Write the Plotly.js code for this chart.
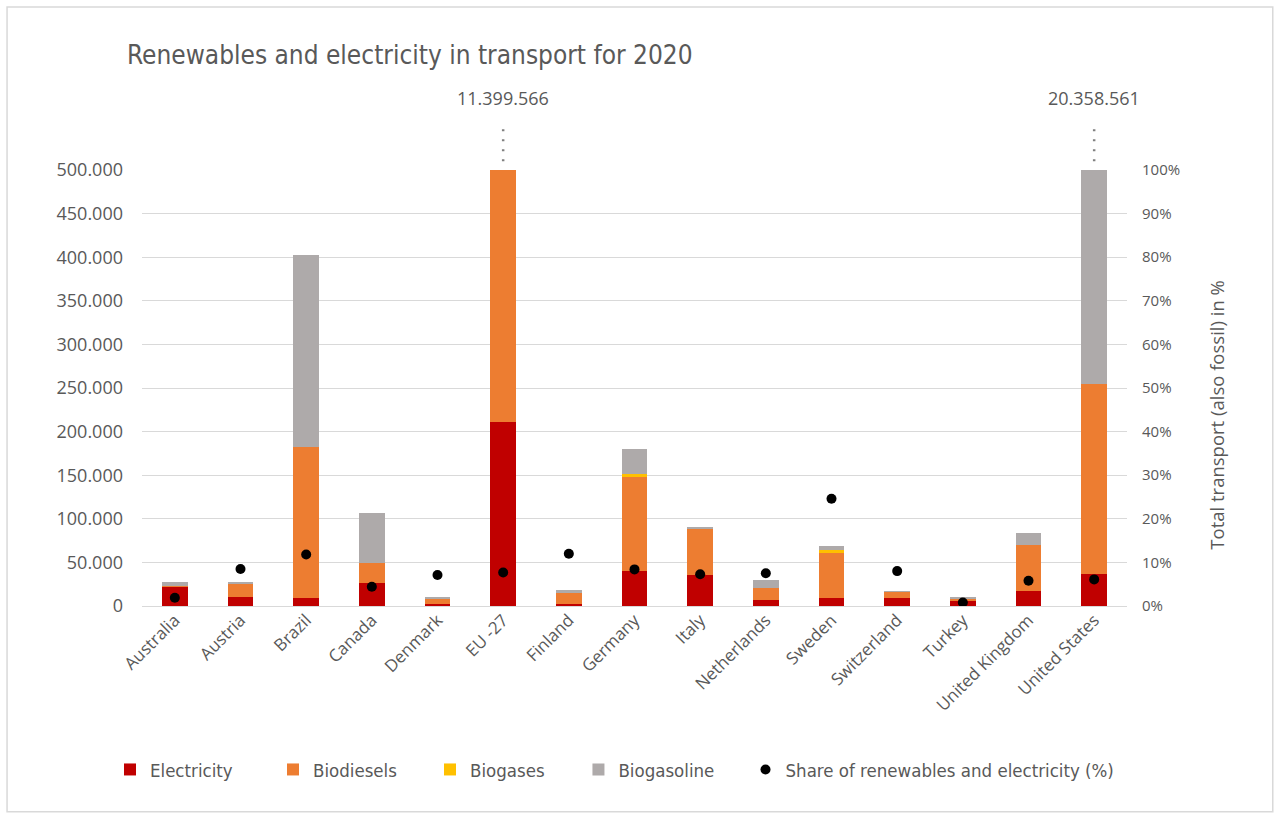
<!DOCTYPE html>
<html>
<head>
<meta charset="utf-8">
<script src="https://cdn.plot.ly/plotly-3.0.1.min.js"></script>
<style>html,body{margin:0;padding:0;background:#fff;}#chart{width:1281px;height:819px;}</style>
</head>
<body>
<div id="chart"></div>
<script>
const countries = ["Australia","Austria","Brazil","Canada","Denmark","EU -27","Finland","Germany","Italy","Netherlands","Sweden","Switzerland","Turkey","United Kingdom","United States"];
const electricity = [21900, 10900, 9700, 26600, 2000, 211400, 2800, 40000, 35500, 6600, 9700, 9700, 5400, 17300, 37000];
const biodiesels  = [500, 14500, 172800, 22400, 5700, 580000, 12200, 109000, 53100, 13500, 50800, 6900, 2700, 52800, 218000];
const biogases    = [0, 0, 0, 0, 0, 10000, 0, 2000, 0, 0, 3800, 0, 0, 0, 0];
const biogasoline = [5000, 2000, 219500, 58000, 3200, 90000, 3900, 29600, 1100, 9600, 4700, 400, 1100, 13100, 980000];
const sharePct    = [0.019, 0.085, 0.118, 0.044, 0.071, 0.077, 0.120, 0.084, 0.073, 0.075, 0.246, 0.080, 0.008, 0.058, 0.061];
const overflowCountries = ["EU -27", "United States"];
const overflowLabels = ["11.399.566", "20.358.561"];

const txt = '#595959';
const cond = 'DejaVu Sans Condensed, DejaVu Sans, sans-serif';
const body = 'Open Sans, Liberation Sans, sans-serif';

const barTrace = (name, vals, color, leg) => ({
  type: 'bar', name: name, x: countries, y: vals, legend: leg,
  marker: {color: color, line: {width: 0}}, hoverinfo: 'y+name'
});

const traces = [
  barTrace('Electricity', electricity, '#C00000', 'legend'),
  barTrace('Biodiesels', biodiesels, '#ED7D31', 'legend2'),
  barTrace('Biogases', biogases, '#FFC000', 'legend3'),
  barTrace('Biogasoline', biogasoline, '#AEAAAA', 'legend4'),
  {
    type: 'scatter', mode: 'markers', name: 'Share of renewables and electricity (%)',
    x: countries, y: sharePct, yaxis: 'y2', legend: 'legend5',
    marker: {color: '#000000', size: 10}
  }
];

const annotations = overflowCountries.map((c, i) => ({
  x: c, xref: 'x', y: 1.165, yref: 'paper', text: overflowLabels[i], showarrow: false,
  font: {family: body, size: 18, color: txt}, xanchor: 'center', yanchor: 'middle'
}));
annotations.push({
  x: 1.09, xref: 'paper', y: 0.438, yref: 'paper', textangle: -90, showarrow: false,
  text: 'Total transport (also fossil) in %', xanchor: 'center', yanchor: 'middle',
  font: {family: body, size: 18.5, color: txt}
});

const shapes = overflowCountries.map(c => ({
  type: 'line', xref: 'x', yref: 'paper', x0: c, x1: c, y0: 1.02, y1: 1.098,
  line: {color: '#7f7f7f', width: 2.5, dash: '2px,8px'}
}));
shapes.push({
  type: 'rect', xref: 'paper', yref: 'paper', x0: -0.137, x1: 1.148, y0: -0.472, y1: 1.374,
  line: {color: '#d9d9d9', width: 1.5}, fillcolor: 'rgba(0,0,0,0)', layer: 'below'
});

const legendBase = (x) => ({
  orientation: 'h', x: x, xanchor: 'left', y: -0.376, yanchor: 'middle',
  font: {family: cond, size: 18.5, color: txt}, itemwidth: 30, bgcolor: 'rgba(0,0,0,0)'
});

const layout = {
  width: 1281, height: 819,
  margin: {l: 142, r: 154, t: 170, b: 213},
  paper_bgcolor: '#ffffff', plot_bgcolor: '#ffffff',
  separators: ',.',
  barmode: 'stack', bargap: 0.61,
  title: {
    text: 'Renewables and electricity in transport for 2020',
    font: {family: cond, size: 26, color: txt},
    x: 127/1281, xanchor: 'left', xref: 'container',
    y: 1 - 55/819, yanchor: 'middle', yref: 'container'
  },
  xaxis: {
    type: 'category', tickangle: -45, range: [-0.5, 14.5], autorange: false,
    tickfont: {family: body, size: 17, color: txt},
    showgrid: false, showline: false, ticks: '', zeroline: false, automargin: false
  },
  yaxis: {
    range: [0, 500000], autorange: false, dtick: 50000, tickformat: ',d',
    tickfont: {family: body, size: 18, color: txt},
    gridcolor: '#d9d9d9', gridwidth: 1, zeroline: true, zerolinecolor: '#d9d9d9', zerolinewidth: 1,
    showline: false, ticks: '', ticklabelstandoff: 18, automargin: false
  },
  yaxis2: {
    overlaying: 'y', side: 'right', range: [0, 1], autorange: false, dtick: 0.1, tickformat: '.0%',
    tickfont: {family: body, size: 15, color: txt},
    showgrid: false, zeroline: false, showline: false, ticks: '', ticklabelstandoff: 14, automargin: false
  },
  showlegend: true,
  legend: legendBase(-0.0325),
  legend2: legendBase(0.133),
  legend3: legendBase(0.2924),
  legend4: legendBase(0.4431),
  legend5: legendBase(0.6127),
  annotations: annotations,
  shapes: shapes,
  hovermode: 'closest'
};

Plotly.newPlot('chart', traces, layout, {displayModeBar: false, responsive: false});
</script>
</body>
</html>
